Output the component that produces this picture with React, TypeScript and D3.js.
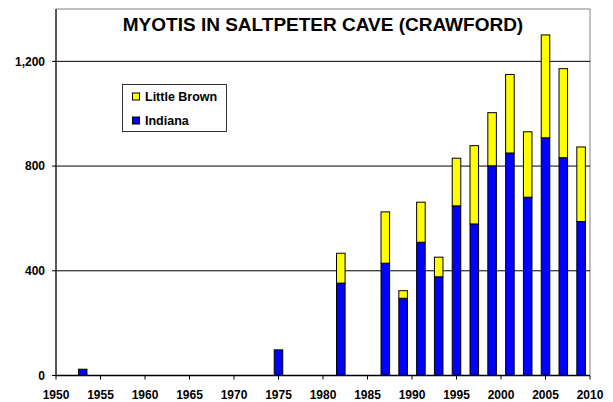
import React from "react";
import * as d3 from "d3";

const years = [1953, 1975, 1982, 1987, 1989, 1991, 1993, 1995, 1997, 1999, 2001, 2003, 2005, 2007, 2009];
const indiana = [24, 98, 353, 429, 295, 509, 377, 648, 579, 801, 850, 681, 908, 832, 588];
const littleBrown = [0, 0, 114, 196, 29, 153, 75, 182, 299, 203, 300, 250, 393, 340, 285];
const yTicks = [0, 400, 800, 1200];
const xTicks = [1950, 1955, 1960, 1965, 1970, 1975, 1980, 1985, 1990, 1995, 2000, 2005, 2010];
const seriesNames = ["Little Brown", "Indiana"];
const seriesColors = ["#FFFF00", "#0000FF"];
const title = "MYOTIS IN SALTPETER CAVE (CRAWFORD)";

const W = 613, H = 402;
const left = 56, right = 590, top = 9, bottom = 375.5;
const font = "Arial, 'Liberation Sans', Helvetica, sans-serif";

export default function App() {
  const x = d3.scaleLinear().domain([1950, 2010]).range([left, right]);
  const y = d3.scaleLinear().domain([0, 1400]).range([bottom, top]);
  const fmt = d3.format(",");
  const half = 0.48;

  return (
    <svg width={W} height={H} style={{ position: "fixed", left: 0, top: 0, display: "block", background: "#fff" }} fontFamily={font}>
      <rect x={0} y={0} width={W} height={H} fill="#fff" />
      {/* plot frame top/right */}
      <line x1={left} x2={right} y1={top} y2={top} stroke="#808080" strokeWidth={1} />
      <line x1={right} x2={right} y1={top} y2={bottom} stroke="#808080" strokeWidth={1} />
      {/* gridlines */}
      {yTicks.filter(t => t > 0).map(t => (
        <line key={"g" + t} x1={left} x2={right} y1={y(t)} y2={y(t)} stroke="#000" strokeWidth={1} />
      ))}
      {/* bars */}
      {years.map((yr, i) => {
        const x0 = x(yr - half), x1 = x(yr + half);
        const ind = indiana[i], lb = littleBrown[i];
        return (
          <g key={yr}>
            <rect x={x0} y={y(ind)} width={x1 - x0} height={y(0) - y(ind)} fill={seriesColors[1]} stroke="#000" strokeWidth={1} />
            {lb > 0 && (
              <rect x={x0} y={y(ind + lb)} width={x1 - x0} height={y(ind) - y(ind + lb)} fill={seriesColors[0]} stroke="#000" strokeWidth={1} />
            )}
          </g>
        );
      })}
      {/* axes */}
      <line x1={left} x2={left} y1={top} y2={bottom} stroke="#222" strokeWidth={1.5} />
      <line x1={left} x2={right} y1={bottom} y2={bottom} stroke="#000" strokeWidth={1.5} />
      {yTicks.map(t => (
        <g key={"y" + t}>
          <line x1={left - 4} x2={left} y1={y(t)} y2={y(t)} stroke="#000" />
          <text x={45} y={y(t)} dy="0.35em" textAnchor="end" fontSize={12} fontWeight="bold">{fmt(t)}</text>
        </g>
      ))}
      {xTicks.map(t => (
        <g key={"x" + t}>
          <line x1={x(t)} x2={x(t)} y1={bottom} y2={bottom + 4} stroke="#000" />
          <text x={x(t)} y={399} textAnchor="middle" fontSize={12} fontWeight="bold">{t}</text>
        </g>
      ))}
      {/* title */}
      <text x={(left + right) / 2} y={31} textAnchor="middle" fontSize={19} fontWeight="bold">{title}</text>
      {/* legend */}
      <rect x={122.5} y={84.5} width={104} height={47} fill="#fff" stroke="#333" strokeWidth={1} />
      {seriesNames.map((n, i) => (
        <g key={n} transform={`translate(132, ${96.5 + i * 24})`}>
          <rect x={0.5} y={-3.5} width={7} height={7} fill={seriesColors[i]} stroke="#000" strokeWidth={1} />
          <text x={13} y={0} dy="0.36em" fontSize={12.5} fontWeight="bold">{n}</text>
        </g>
      ))}
    </svg>
  );
}
